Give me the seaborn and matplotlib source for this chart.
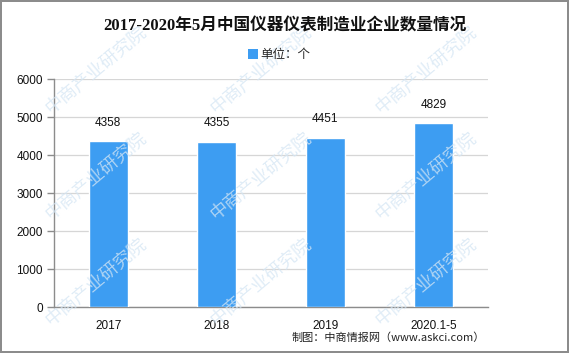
import matplotlib
matplotlib.use("Agg")
import matplotlib.pyplot as plt
import seaborn as sns
import pandas as pd
from matplotlib.patches import Patch

categories = ["2017", "2018", "2019", "2020.1-5"]
values = [4358, 4355, 4451, 4829]
yticks = [0, 1000, 2000, 3000, 4000, 5000, 6000]
title = "2017-2020年5月中国仪器仪表制造业企业数量情况"
legend_label = "单位：个"
source = "制图：中商情报网（www.askci.com）"
watermark = "中商产业研究院"

sns.set_theme(style="white")
plt.rcParams['font.family'] = ['Liberation Sans', 'Noto Sans CJK SC', 'DejaVu Sans']

bar_color = "#3D9DF2"
df = pd.DataFrame({"cat": categories, "val": values})

fig = plt.figure(figsize=(5.69, 3.53), dpi=100)
fig.patch.set_facecolor("white")
fig.patch.set_edgecolor("#8c8c8c")
fig.patch.set_linewidth(1.5)

ax = fig.add_axes([0.0949, 0.1303, 0.7627, 0.6459])

# watermarks
for wx in [0.17, 0.46, 0.75]:
    for wy in [0.80, 0.50, 0.20]:
        fig.text(wx, wy, watermark, rotation=40, fontsize=13, color="#d5e6f4",
                 ha="center", va="center", alpha=0.75, zorder=0,
                 family=['Noto Sans CJK SC'])

sns.barplot(data=df, x="cat", y="val", color=bar_color, saturation=1,
            width=0.36, ax=ax, zorder=3)

ax.set_ylim(0, 6000)
ax.set_xlim(-0.5, len(categories) - 0.5)
ax.set_yticks(yticks)
ax.set_yticklabels([str(t) for t in yticks], fontsize=8.5, color="#111111")
ax.yaxis.grid(True, color="#d6d6d6", linewidth=0.9, zorder=0)
ax.set_axisbelow(True)
ax.patch.set_alpha(0)

# x ticks: boundaries as major ticks, labels at centers
ax.set_xticks([i - 0.5 for i in range(len(categories) + 1)])
ax.set_xticklabels([])
ax.set_xticks(range(len(categories)), minor=True)
ax.set_xticklabels(categories, minor=True, fontsize=8.5, color="#111111")
ax.tick_params(axis="x", which="major", length=5, color="#8c8c8c", width=1)
ax.tick_params(axis="x", which="minor", length=0, pad=9)
ax.tick_params(axis="y", length=5, color="#8c8c8c", width=1, left=True, pad=3)

for s in ["top", "right"]:
    ax.spines[s].set_visible(False)
for s in ["left", "bottom"]:
    ax.spines[s].set_color("#8c8c8c")
    ax.spines[s].set_linewidth(1)

ax.set_xlabel("")
ax.set_ylabel("")

for c in ax.containers:
    ax.bar_label(c, labels=[str(v) for v in values], padding=9, fontsize=8.5, color="#111111")

fig.text(0.50, 0.925, title, ha="center", va="center", fontsize=12, fontweight="bold",
         family=['Liberation Serif', 'Noto Sans CJK SC'], color="#111111")

fig.legend(handles=[Patch(facecolor=bar_color, edgecolor="none")], labels=[legend_label],
           loc="center", bbox_to_anchor=(0.49, 0.845), frameon=False, fontsize=9,
           handlelength=0.8, handleheight=0.8, handletextpad=0.2,
           prop={'family': ['Noto Sans CJK SC'], 'size': 9})

fig.text(0.853, 0.043, source, ha="right", va="center", fontsize=8, color="#222222",
         family=['Noto Sans CJK SC'])

fig.savefig("out.png", dpi=100)
